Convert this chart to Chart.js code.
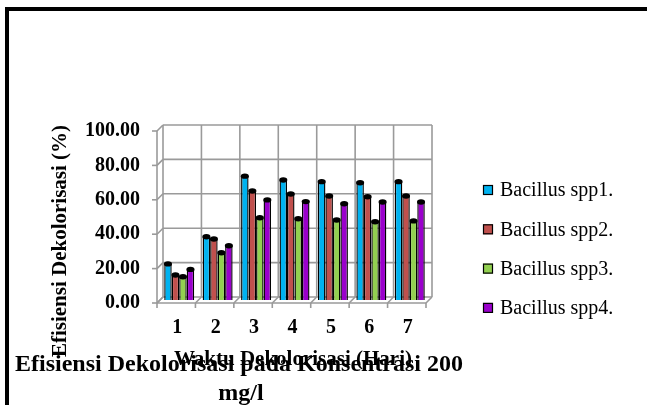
<!DOCTYPE html>
<html>
<head>
<meta charset="utf-8">
<script src="https://cdn.jsdelivr.net/npm/chart.js@4/dist/chart.umd.min.js"></script>
<style>
  html, body { margin: 0; padding: 0; background: #fff; }
  canvas { display: block; }
</style>
</head>
<body>
<canvas id="c" width="647" height="405"></canvas>
<script>
// Decolorisation days and efficiency per Bacillus isolate (%)
const days = ['1', '2', '3', '4', '5', '6', '7'];
const spp1 = [21.0, 36.8, 72.0, 69.8, 68.8, 68.2, 68.8];
const spp2 = [14.5, 35.5, 63.4, 61.6, 60.5, 60.0, 60.5];
const spp3 = [13.5, 27.5, 47.8, 47.2, 46.5, 45.5, 46.0];
const spp4 = [17.8, 31.5, 58.2, 57.2, 56.0, 57.0, 57.0];
const seriesNames = ['Bacillus spp1.', 'Bacillus spp2.', 'Bacillus spp3.', 'Bacillus spp4.'];
const seriesColors = ['#00B2F0', '#C0504D', '#92D050', '#9A00CC'];
const yTickLabels = ['0.00', '20.00', '40.00', '60.00', '80.00', '100.00'];
const yAxisTitle = 'Efisiensi Dekolorisasi (%)';
const xAxisTitle = 'Waktu Dekolorisasi (Hari)';
const chartTitle = ['Efisiensi Dekolorisasi pada Konsentrasi 200', 'mg/l'];

const SERIF = '"Liberation Serif", "Times New Roman", serif';
const DEPTH = 3; // half depth of the 3-D box, in px

// Wall, floor and side grid of the 3-D box
const boxPlugin = {
  id: 'box3d',
  beforeDatasetsDraw(chart) {
    const { ctx, chartArea: a, scales: { x, y } } = chart;
    const n = days.length;
    const cw = a.width / n;
    const d = DEPTH;
    const y0 = y.getPixelForValue(0);
    const yTop = y.getPixelForValue(100);
    ctx.save();
    ctx.strokeStyle = '#9a9a9a';
    ctx.lineWidth = 1.6;
    const line = (x1, y1, x2, y2) => { ctx.beginPath(); ctx.moveTo(x1, y1); ctx.lineTo(x2, y2); ctx.stroke(); };
    for (let i = 0; i < yTickLabels.length; i++) {
      const v = Number(yTickLabels[i]);
      const py = y.getPixelForValue(v);
      line(a.left + d, py - d, a.right + d, py - d);      // back wall
      line(a.left - d, py + d, a.left + d, py - d);       // side wall
      line(a.left - d - 5, py + d, a.left - d, py + d);   // tick mark
    }
    for (let k = 0; k <= n; k++) {
      const bx = a.left + k * cw;
      line(bx + d, y0 - d, bx + d, yTop - d);             // back wall
      line(bx - d, y0 + d, bx + d, y0 - d);               // floor depth
      line(bx - d, y0 + d, bx - d, y0 + d + 5);           // tick mark
    }
    line(a.left - d, y0 + d, a.left - d, yTop + d);       // front vertical axis
    line(a.left - d, y0 + d, a.right - d, y0 + d);        // front floor edge
    ctx.restore();
  },
  afterDatasetsDraw(chart) {
    // dark rounded caps on each column
    const { ctx } = chart;
    ctx.save();
    ctx.fillStyle = '#000';
    chart.data.datasets.forEach((ds, i) => {
      chart.getDatasetMeta(i).data.forEach(bar => {
        ctx.beginPath();
        ctx.ellipse(bar.x, bar.y, bar.width / 2 + 0.3, 2.7, 0, 0, Math.PI * 2);
        ctx.fill();
      });
    });
    ctx.restore();
  },
  afterDraw(chart) {
    const { ctx } = chart;
    ctx.save();
    // frame
    ctx.fillStyle = '#000';
    ctx.fillRect(5, 7, 642, 4);
    ctx.fillRect(5, 7, 4, 398);

    // y-axis title
    ctx.fillStyle = '#000';
    ctx.font = 'bold 21px ' + SERIF;
    ctx.textAlign = 'center';
    ctx.textBaseline = 'alphabetic';
    ctx.save();
    ctx.translate(66, 241);
    ctx.rotate(-Math.PI / 2);
    ctx.fillText(yAxisTitle, 0, 0);
    ctx.restore();

    // x-axis title
    ctx.font = 'bold 21px ' + SERIF;
    ctx.fillText(xAxisTitle, 293, 365);

    // chart title
    ctx.font = 'bold 24px ' + SERIF;
    ctx.fillText(chartTitle[0], 239, 371);
    ctx.fillText(chartTitle[1], 241, 400);

    // legend
    ctx.textAlign = 'left';
    ctx.textBaseline = 'middle';
    ctx.font = '20px ' + SERIF;
    chart.data.datasets.forEach((ds, i) => {
      const cy = 190 + i * 39.3;
      ctx.fillStyle = ds.backgroundColor;
      ctx.fillRect(483, cy - 5, 10, 10);
      ctx.strokeStyle = '#000';
      ctx.lineWidth = 1.2;
      ctx.strokeRect(483.5, cy - 4.5, 9, 9);
      ctx.fillStyle = '#000';
      ctx.fillText(ds.label, 500, cy + 1);
    });
    ctx.restore();
  }
};

const seriesData = [spp1, spp2, spp3, spp4];

new Chart(document.getElementById('c'), {
  type: 'bar',
  data: {
    labels: days,
    datasets: seriesData.map((vals, i) => ({
      label: seriesNames[i],
      data: vals,
      backgroundColor: seriesColors[i],
      borderColor: '#000',
      borderWidth: 1.4,
      barPercentage: 1.0,
      categoryPercentage: 0.78
    }))
  },
  options: {
    responsive: false,
    animation: false,
    devicePixelRatio: 1,
    layout: { padding: { left: 0, top: 128, right: 218, bottom: 0 } },
    plugins: {
      legend: { display: false },
      title: { display: false },
      tooltip: { enabled: false }
    },
    scales: {
      x: {
        grid: { display: false, drawTicks: false },
        border: { display: false },
        ticks: {
          color: '#000',
          font: { family: SERIF, size: 20, weight: 'bold' },
          padding: 16,
          labelOffset: -2,
          maxRotation: 0
        },
        afterFit(s) { s.height = 105; }
      },
      y: {
        min: 0,
        max: 100,
        grid: { display: false, drawTicks: false },
        border: { display: false },
        ticks: {
          stepSize: 20,
          color: '#000',
          font: { family: SERIF, size: 20, weight: 'bold' },
          padding: 20,
          labelOffset: 3,
          callback: (v, i) => yTickLabels[i]
        },
        afterFit(s) { s.width = 160; }
      }
    }
  },
  plugins: [boxPlugin]
});
</script>
</body>
</html>
